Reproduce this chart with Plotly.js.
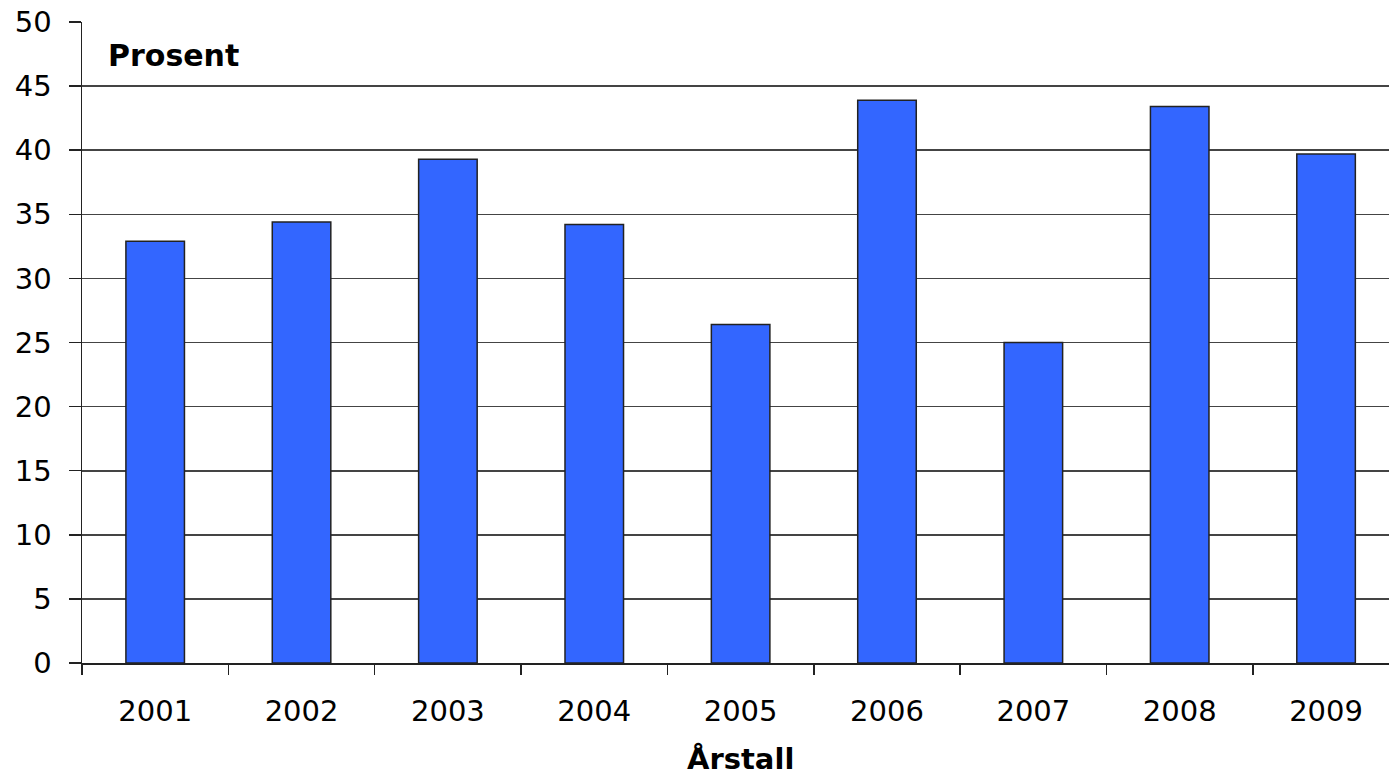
<!DOCTYPE html>
<html>
<head>
<meta charset="utf-8">
<script src="https://cdn.plot.ly/plotly-3.0.1.min.js"></script>
<style>html,body{margin:0;padding:0;background:#fff;}#chart{width:1389px;height:778px;}</style>
</head>
<body>
<div id="chart"></div>
<script>
const years = ["2001","2002","2003","2004","2005","2006","2007","2008","2009"];
const percent = [32.9, 34.4, 39.3, 34.2, 26.4, 43.9, 25.0, 43.4, 39.7];
const yTicks = [0,5,10,15,20,25,30,35,40,45,50];
const unitLabel = "Prosent";
const xTitle = "Årstall";

const font = "'DejaVu Sans', 'Liberation Sans', Arial, sans-serif";

const trace = {
  type: "bar",
  x: years,
  y: percent,
  width: 0.4,
  marker: {color: "#3366FF", line: {color: "#222222", width: 1.5}},
  hoverinfo: "x+y"
};

const layout = {
  width: 1389, height: 778,
  margin: {l: 82, r: 0, t: 22, b: 115, pad: 0},
  paper_bgcolor: "#ffffff", plot_bgcolor: "#ffffff",
  showlegend: false,
  font: {family: font, color: "#000000", size: 29},
  xaxis: {
    type: "category",
    range: [-0.5, 8.43],
    tickson: "boundaries",
    ticks: "outside", ticklen: 10, tickwidth: 1.5, tickcolor: "#222",
    ticklabelstandoff: 22,
    showline: true, linecolor: "#222", linewidth: 1.5,
    showgrid: false, zeroline: false,
    tickfont: {family: font, size: 29, color: "#000"}
  },
  yaxis: {
    range: [0, 50],
    tickvals: yTicks,
    ticktext: yTicks.map(String),
    ticks: "outside", ticklen: 12, tickwidth: 1.5, tickcolor: "#222",
    ticklabelstandoff: 11,
    showline: true, linecolor: "#222", linewidth: 1.5,
    showgrid: true, gridcolor: "#444444", gridwidth: 1.6,
    zeroline: false,
    tickfont: {family: font, size: 29, color: "#000"}
  },
  annotations: [
    {text: "<b>" + unitLabel + "</b>", xref: "paper", yref: "y", x: 0.018, y: 47.4,
     xanchor: "left", yanchor: "middle", showarrow: false,
     font: {family: font, size: 30, color: "#000"}},
    {text: "<b>" + xTitle + "</b>", xref: "paper", yref: "paper", x: 0.504, y: -0.149,
     xanchor: "center", yanchor: "middle", showarrow: false,
     font: {family: font, size: 29, color: "#000"}}
  ],
  bargap: 0.6
};

Plotly.newPlot("chart", [trace], layout, {displayModeBar: false, staticPlot: true});
</script>
</body>
</html>
